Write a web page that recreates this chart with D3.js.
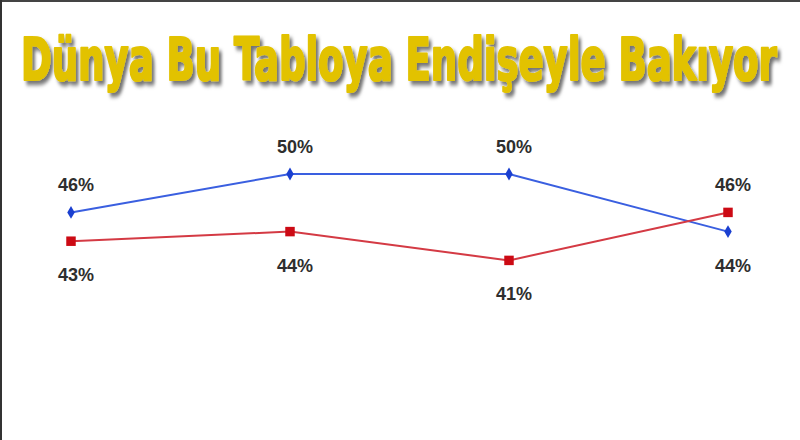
<!DOCTYPE html>
<html lang="tr">
<head>
<meta charset="utf-8">
<script src="https://cdn.jsdelivr.net/npm/d3@7"></script>
<style>
  body { margin: 0; background: #fff; }
  svg { display: block; }
  .lbl { font: bold 18px "Liberation Sans", Arial, sans-serif; fill: #2e2e2e; }
</style>
</head>
<body>
<script>
// data
var waves = ["1", "2", "3", "4"];
var blueValues = [46, 50, 50, 44];
var redValues = [43, 44, 41, 46];
// which side of the point each label sits on (1 = above, -1 = below)
var blueLabelSide = [1, 1, 1, -1];
var redLabelSide = [-1, -1, -1, 1];
var title = "Dünya Bu Tabloya Endişeyle Bakıyor";

var w = 800, h = 440;

var svg = d3.select("body").append("svg")
    .attr("width", w)
    .attr("height", h);

// drop shadow for the title
var defs = svg.append("defs");
var f = defs.append("filter").attr("id", "shadow")
    .attr("x", "-5%").attr("y", "-30%").attr("width", "115%").attr("height", "170%");
f.append("feDropShadow")
    .attr("dx", 4).attr("dy", 4)
    .attr("stdDeviation", 2.2)
    .attr("flood-color", "#000")
    .attr("flood-opacity", 0.55);

// frame lines (top and left)
svg.append("rect").attr("x", 0).attr("y", 0).attr("width", w).attr("height", 2).attr("fill", "#444");
svg.append("rect").attr("x", 0).attr("y", 0).attr("width", 2).attr("height", h).attr("fill", "#333");

// title: squeeze horizontally so it spans the same width as the picture's
var titleWidth = 756;
var t = svg.append("text")
    .attr("filter", "url(#shadow)")
    .style("font-family", "Impact, 'Liberation Sans Narrow', 'DejaVu Sans Condensed', sans-serif")
    .style("font-weight", "bold")
    .style("font-size", "59px")
    .style("fill", "#e2c200")
    .style("stroke", "#e2c200")
    .style("stroke-width", 2.2)
    .style("stroke-linejoin", "round")
    .text(title);
var natural = t.node().getComputedTextLength();
t.attr("transform", "translate(21,80) scale(" + (titleWidth / natural) + ",1)");

var x = d3.scalePoint()
    .domain(waves)
    .range([71, 728]);

var y = d3.scaleLinear()
    .domain([40, 50])
    .range([270, 174]);

var line = d3.line()
    .x(function(d, i) { return x(waves[i]); })
    .y(function(d) { return y(d); });

function drawSeries(values, sides, colour, marker) {
  svg.append("path")
      .datum(values)
      .attr("d", line)
      .attr("fill", "none")
      .attr("stroke", colour)
      .attr("stroke-width", 2);

  svg.selectAll(null)
      .data(values)
      .enter()
      .append("path")
      .attr("transform", function(d, i) { return "translate(" + x(waves[i]) + "," + y(d) + ")"; })
      .attr("d", d3.symbol().type(marker.type).size(marker.size))
      .attr("fill", marker.fill);

  svg.selectAll(null)
      .data(values)
      .enter()
      .append("text")
      .attr("class", "lbl")
      .attr("text-anchor", "middle")
      .attr("x", function(d, i) { return x(waves[i]) + 5; })
      .attr("y", function(d, i) { return sides[i] > 0 ? y(d) - 21 : y(d) + 40; })
      .text(function(d) { return d + "%"; });
}

drawSeries(blueValues, blueLabelSide, "#3a5fe0", { type: d3.symbolDiamond, size: 48, fill: "#1a3fd0" });
drawSeries(redValues, redLabelSide, "#d43a44", { type: d3.symbolSquare, size: 90, fill: "#cc0a14" });
</script>
</body>
</html>
